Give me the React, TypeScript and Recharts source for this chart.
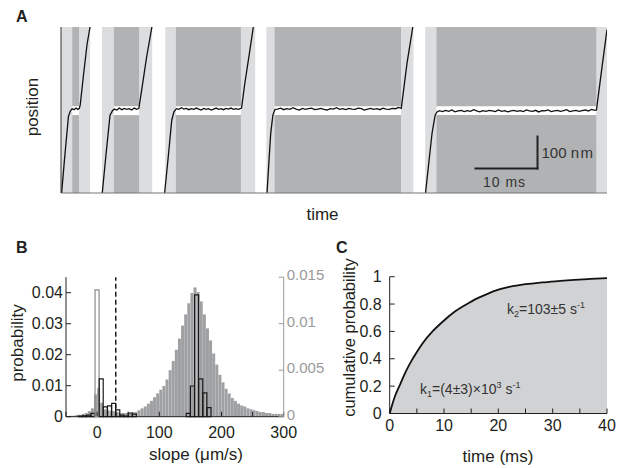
import { ComposedChart, Bar, Line, Area, XAxis, YAxis, ReferenceArea, ReferenceLine, Cell } from 'recharts';

const FONT = '"Liberation Sans", Arial, Helvetica, sans-serif';
const INK = '#231f20';

// ---- panel A: position trace (time in ms, position in nm) ----
const lightBands: [number, number][] = [
  [0, 1.8], [2.9, 4.7], [6.6, 8.5], [12.6, 14.7], [16.8, 18.5], [29.0, 31.3],
  [33.1, 34.4], [54.8, 56.8], [58.7, 60.5], [86.3, 88],
];
const darkBands: [number, number][] = [[1.8, 2.9], [8.5, 12.6], [18.5, 29.0], [34.4, 54.8], [60.5, 86.3]];
const stripe: [number, number] = [244, 272];
const scaleBarT = [66.8, 76.8];
const scaleBarPos = [77, 177];

const trace1: [number, number][] = [
  [0.1, 0], [0.65, 124], [1.2, 240], [1.5, 257], [1.8, 264], [2.1, 261], [2.4, 266], [2.7, 262],
  [2.95, 265], [3.1, 276], [3.6, 365], [4.2, 466], [4.68, 520],
];
const trace2: [number, number][] = [
  [6.65, 0], [7.25, 120], [7.9, 244], [8.3, 258], [8.6, 263], [9.0, 260], [9.4, 266], [9.8, 261],
  [10.2, 265], [10.6, 262], [11.0, 264], [11.4, 260], [11.8, 266], [12.2, 262], [12.55, 265],
  [13.0, 322], [13.8, 426], [14.65, 520],
];
const trace3: [number, number][] = [
  [16.7, 0], [17.3, 116], [17.85, 228], [18.2, 254], [18.6, 264], [19.0, 262], [19.4, 267], [19.8, 263],
  [20.2, 265], [20.6, 261], [21.0, 264], [21.4, 262], [21.8, 266], [22.2, 263], [22.6, 260], [23.0, 265],
  [23.4, 262], [23.8, 264], [24.2, 260], [24.6, 263], [25.0, 266], [25.4, 262], [25.8, 264], [26.2, 261],
  [26.6, 265], [27.0, 263], [27.4, 266], [27.8, 262], [28.2, 264], [28.6, 262], [29.1, 266],
  [29.6, 340], [30.2, 416], [31.0, 520],
];
const trace4: [number, number][] = [
  [33.2, 0], [33.8, 187], [34.15, 244], [34.5, 262], [34.9, 263], [35.4, 266], [35.9, 261], [36.4, 264],
  [36.9, 262], [37.4, 267], [37.9, 263], [38.4, 260], [38.9, 265], [39.4, 262], [39.9, 264], [40.4, 266],
  [40.9, 261], [41.4, 263], [41.9, 265], [42.4, 262], [42.9, 260], [43.4, 264], [43.9, 263], [44.4, 267],
  [44.9, 262], [45.4, 264], [45.9, 261], [46.4, 265], [46.9, 263], [47.4, 262], [47.9, 266], [48.4, 264],
  [48.9, 260], [49.4, 263], [49.9, 265], [50.4, 262], [50.9, 264], [51.4, 261], [51.9, 266], [52.4, 263],
  [52.9, 262], [53.4, 265], [53.9, 264], [54.4, 268], [54.84, 265], [55.3, 335], [55.76, 405], [56.7, 520],
];
const trace5: [number, number][] = [
  [58.75, 0], [59.8, 187], [60.3, 244], [60.6, 254], [61.0, 258], [61.5, 255], [62.0, 259], [62.5, 256],
  [63.0, 260], [63.5, 254], [64.0, 257], [64.5, 259], [65.0, 255], [65.5, 258], [66.0, 256], [66.5, 261],
  [67.0, 257], [67.5, 254], [68.0, 258], [68.5, 256], [69.0, 259], [69.5, 257], [70.0, 255], [70.5, 260],
  [71.0, 256], [71.5, 258], [72.0, 254], [72.5, 257], [73.0, 259], [73.5, 256], [74.0, 258], [74.5, 255],
  [75.0, 260], [75.5, 257], [76.0, 256], [76.5, 259], [77.0, 254], [77.5, 258], [78.0, 257], [78.5, 260],
  [79.0, 255], [79.5, 257], [80.0, 259], [80.5, 256], [81.0, 258], [81.5, 261], [82.0, 255], [82.5, 257],
  [83.0, 259], [83.5, 256], [84.0, 258], [84.5, 260], [85.0, 257], [85.5, 262], [86.0, 259], [86.3, 260],
  [87.2, 395], [88.0, 512],
];

// ---- panel B: slope histograms ----
const grayX = [
  -47.5, -42.5, -37.5, -32.5, -27.5, -22.5, -17.5, -12.5, -7.5, -2.5,
  2.5, 7.5, 12.5, 17.5, 22.5, 27.5, 32.5, 37.5, 42.5, 47.5,
  52.5, 57.5, 62.5, 67.5, 72.5, 77.5, 82.5, 87.5, 92.5, 97.5,
  102.5, 107.5, 112.5, 117.5, 122.5, 127.5, 132.5, 137.5, 142.5, 147.5,
  152.5, 157.5, 162.5, 167.5, 172.5, 177.5, 182.5, 187.5, 192.5, 197.5,
  202.5, 207.5, 212.5, 217.5, 222.5, 227.5, 232.5, 237.5, 242.5, 247.5,
  252.5, 257.5, 262.5, 267.5, 272.5, 277.5, 282.5, 287.5, 292.5, 297.5,
];
const grayProb = [
  0.0000, 0.0001, 0.0001, 0.0002, 0.0002, 0.0003, 0.0004, 0.0006, 0.0009, 0.0024,
  0.0031, 0.0015, 0.0008, 0.0007, 0.0006, 0.0006, 0.0005, 0.0004, 0.0004, 0.0004,
  0.0004, 0.0005, 0.0005, 0.0007, 0.0009, 0.0011, 0.0014, 0.0017, 0.0021, 0.0025,
  0.0029, 0.0033, 0.0040, 0.0050, 0.0060, 0.0072, 0.0084, 0.0098, 0.0110, 0.0122,
  0.0133, 0.0139, 0.0134, 0.0124, 0.0110, 0.0095, 0.0082, 0.0068, 0.0056, 0.0045,
  0.0037, 0.0030, 0.0025, 0.0020, 0.0017, 0.0014, 0.0012, 0.0011, 0.0009, 0.0008,
  0.0007, 0.0006, 0.0005, 0.0005, 0.0004, 0.0004, 0.0003, 0.0003, 0.0003, 0.0003,
];
const outlineX = [-26.7, -20, -13.3, -6.7, 0, 6.7, 13.3, 20, 26.7, 33.3, 40, 46.7, 53.3, 60, 146.7, 153.3, 160, 166.7, 173.3, 180];
const outlineProb = [
  0.0002, 0.0003, 0.0005, 0.0011, 0.0409, 0.0122, 0.0032, 0.0035, 0.0043, 0.0022,
  0.0005, 0.0002, 0.0012, 0.0008, 0.0011, 0.0099, 0.0393, 0.0122, 0.0077, 0.0029,
];
const threshold = 30;

// ---- panel C: cumulative dwell-time distribution ----
const cdfTime = [0, 0.5, 1, 2, 3, 4, 5, 6, 8, 10, 12, 14, 16, 18, 20, 22, 25, 28, 31, 34, 37, 40];
const cdfValue = [0, 0.07, 0.13, 0.22, 0.31, 0.385, 0.45, 0.51, 0.605, 0.68, 0.745, 0.795, 0.84, 0.875, 0.905, 0.925, 0.945, 0.958, 0.968, 0.977, 0.984, 0.99];

const traceData = [trace1, trace2, trace3, trace4, trace5].flatMap((seg) => [
  ...seg.map(([t, pos]) => ({ t, pos })),
  { t: seg[seg.length - 1][0], pos: null },
]);
const grayData = grayX.map((x, i) => ({ x, p: grayProb[i] }));
const outlineData = outlineX.map((x, i) => ({ x, p: outlineProb[i] }));
const cdfData = cdfTime.map((t, i) => ({ t, v: cdfValue[i] }));

const tickStyle = { fill: INK, fontSize: 16 };

const PanelA = () => (
  <ComposedChart width={627} height={225} data={traceData} margin={{ top: 27, right: 20, bottom: 0, left: 0 }}>
    <XAxis type="number" dataKey="t" domain={[0, 88]} allowDataOverflow height={32} tick={false} tickLine={false} axisLine={{ stroke: '#777' }} />
    <YAxis type="number" domain={[0, 520]} allowDataOverflow width={61} tick={false} tickLine={false} axisLine={{ stroke: '#333' }} />
    {lightBands.map(([a, b], i) => (
      <ReferenceArea key={'l' + i} x1={a} x2={b} fill="#dcdddf" fillOpacity={1} stroke="none" />
    ))}
    {darkBands.map(([a, b], i) => (
      <ReferenceArea key={'d' + i} x1={a} x2={b} fill="#b1b2b4" fillOpacity={1} stroke="none" />
    ))}
    {darkBands.map(([a, b], i) => (
      <ReferenceArea key={'w' + i} x1={a} x2={b} y1={stripe[0]} y2={stripe[1]} fill="#ffffff" fillOpacity={1} stroke="none" />
    ))}
    <Line dataKey="pos" type="linear" stroke="#111" strokeWidth={1.3} dot={false} isAnimationActive={false} connectNulls={false} />
    <ReferenceLine segment={[{ x: scaleBarT[0], y: scaleBarPos[0] }, { x: scaleBarT[1], y: scaleBarPos[0] }]} stroke="#222" strokeWidth={2} strokeLinecap="square" />
    <ReferenceLine segment={[{ x: scaleBarT[1], y: scaleBarPos[0] }, { x: scaleBarT[1], y: scaleBarPos[1] }]} stroke="#222" strokeWidth={2} strokeLinecap="square" />
  </ComposedChart>
);

// gray histogram, x axis and right axis
const PanelB = () => (
  <ComposedChart width={330} height={228} data={grayData} margin={{ top: 37.2, right: 16.3, bottom: 21.3, left: 66 }}>
    <XAxis
      type="number" dataKey="x" domain={[-50, 300]} ticks={[-50, 0, 50, 100, 150, 200, 250, 300]} interval={0}
      tickFormatter={(v) => (v % 100 === 0 ? String(v) : '')} tickSize={-5} tickMargin={14.5} height={30}
      stroke={INK} tick={tickStyle}
    />
    <YAxis yAxisId="right" orientation="right" domain={[0, 0.015]} ticks={[0, 0.005, 0.01, 0.015]} interval={0} width={30} tickSize={-5} tickMargin={8} stroke="#9a9a9a" tick={{ fill: '#9a9a9a', fontSize: 15, dy: -2.5 }} />
    <Bar yAxisId="right" dataKey="p" barSize={3} fill="#9fa0a2" isAnimationActive={false} />
  </ComposedChart>
);

// outlined histogram, left axis and threshold
const PanelBOutline = () => (
  <ComposedChart width={330} height={228} data={outlineData} margin={{ top: 37.2, right: 46.3, bottom: 51.3, left: 0 }}>
    <XAxis type="number" dataKey="x" domain={[-50, 300]} hide />
    <YAxis domain={[0, 0.045]} ticks={[0, 0.01, 0.02, 0.03, 0.04]} interval={0} width={66} tickSize={-5} tickMargin={8} stroke={INK} tick={tickStyle} />
    <Bar dataKey="p" barSize={4} fill="none" stroke="#1a1a1a" strokeWidth={1.2} isAnimationActive={false}>
      {outlineData.map((d, i) => (
        <Cell key={i} stroke={d.x === 0 ? '#8a8a8a' : '#1a1a1a'} />
      ))}
    </Bar>
    <ReferenceLine x={threshold} stroke="#1a1a1a" strokeWidth={1.5} strokeDasharray="5 3" />
  </ComposedChart>
);

const PanelC = () => (
  <ComposedChart width={297} height={228} data={cdfData} margin={{ top: 36.7, right: 20, bottom: 24.5, left: 0 }}>
    <XAxis
      type="number" dataKey="t" domain={[0, 40]} ticks={[0, 5, 10, 15, 20, 25, 30, 35, 40]} interval={0}
      tickFormatter={(v) => (v % 10 === 0 ? String(v) : '')} tickSize={-5} tickMargin={11.5} height={30}
      stroke={INK} tick={tickStyle}
    />
    <YAxis domain={[0, 1]} ticks={[0, 0.2, 0.4, 0.6, 0.8, 1]} interval={0} width={59.7} tickSize={-5} tickMargin={13} stroke={INK} tick={tickStyle} />
    <Area dataKey="v" type="monotone" fill="#d1d2d4" fillOpacity={1} stroke="none" isAnimationActive={false} />
    <Line dataKey="v" type="monotone" stroke="#111" strokeWidth={1.8} dot={false} isAnimationActive={false} />
  </ComposedChart>
);

export default function App() {
  return (
    <div style={{ position: 'absolute', left: 0, top: 0, width: 627, height: 468, background: '#fff', fontFamily: FONT }}>
      <div style={{ position: 'absolute', left: 0, top: 0 }}><PanelA /></div>
      <div style={{ position: 'absolute', left: 0, top: 240 }}><PanelB /></div>
      <div style={{ position: 'absolute', left: 0, top: 240 }}><PanelBOutline /></div>
      <div style={{ position: 'absolute', left: 330, top: 240 }}><PanelC /></div>
      <svg width={627} height={468} style={{ position: 'absolute', left: 0, top: 0, pointerEvents: 'none' }} fontFamily={FONT} fill={INK}>
        <text x={16} y={22} fontSize={16} fontWeight="bold">A</text>
        <text x={16} y={253} fontSize={16} fontWeight="bold">B</text>
        <text x={336} y={253} fontSize={16} fontWeight="bold">C</text>
        <text x={37.5} y={107} fontSize={17} textAnchor="middle" transform="rotate(-90 37.5 107)">position</text>
        <text x={322.5} y={220} fontSize={17} textAnchor="middle">time</text>
        <text x={541.5} y={158} fontSize={15} fill="#333">100 <tspan letterSpacing={1.5}>nm</tspan></text>
        <text x={483} y={187} fontSize={14} fill="#333" letterSpacing={1}>10 ms</text>
        <text x={23} y={343} fontSize={17} textAnchor="middle" transform="rotate(-90 23 343)">probability</text>
        <text x={196} y={460} fontSize={17} textAnchor="middle">slope (μm/s)</text>
        <text x={355} y={337.5} fontSize={16.5} textAnchor="middle" transform="rotate(-90 355 337.5)">cumulative probability</text>
        <text x={498} y={462} fontSize={17} textAnchor="middle">time (ms)</text>
        <text x={507} y={314} fontSize={14} fill="#333">
          k<tspan fontSize={9} dy={3}>2</tspan><tspan dy={-3}>=103±5 s</tspan><tspan fontSize={9} dy={-6}>-1</tspan>
        </text>
        <text x={420} y={394} fontSize={14} fill="#333">
          k<tspan fontSize={9} dy={3}>1</tspan><tspan dy={-3}>=(4±3)×10</tspan><tspan fontSize={9} dy={-6}>3</tspan><tspan dy={6}> s</tspan><tspan fontSize={9} dy={-6}>-1</tspan>
        </text>
      </svg>
    </div>
  );
}
